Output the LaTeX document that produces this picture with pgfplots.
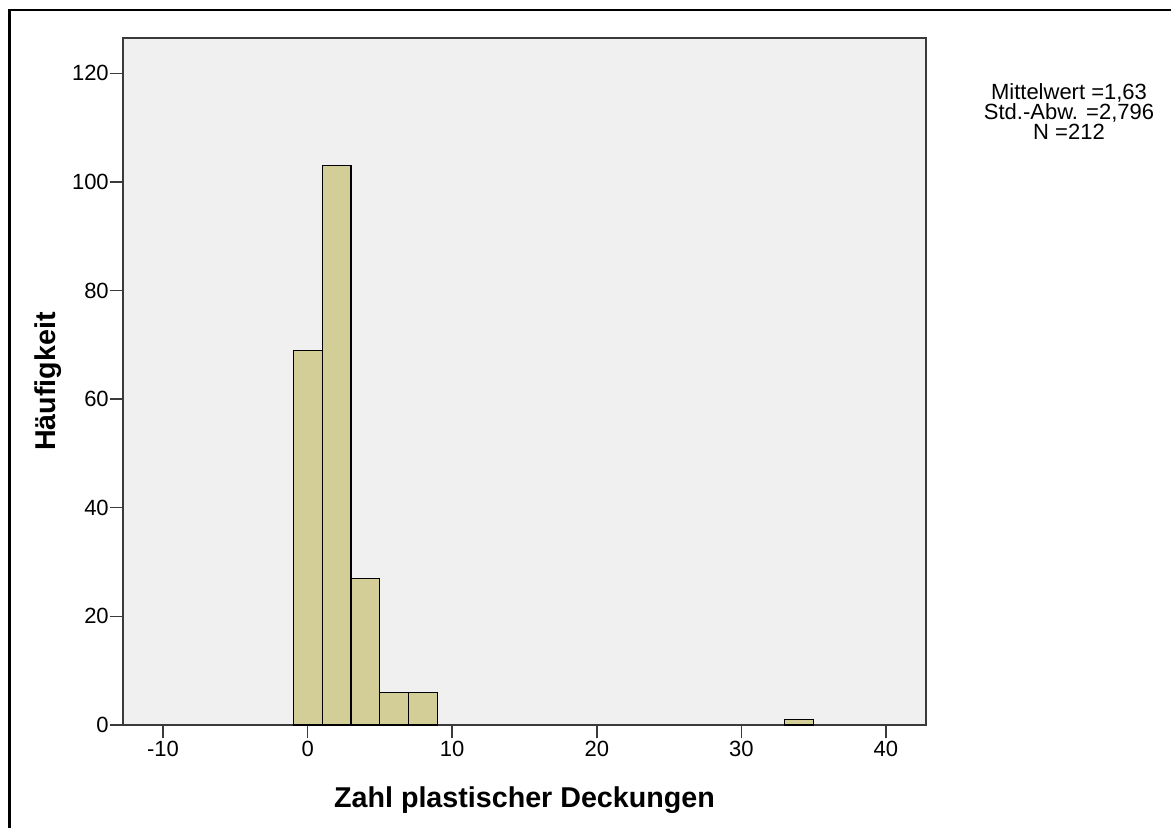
\documentclass[border=0pt]{standalone}
\usepackage{pgfplots}
\pgfplotsset{compat=1.18}
\usepackage{fontspec}
\setmainfont{Liberation Sans}
\definecolor{barfill}{HTML}{D3CE98}
\definecolor{plotbg}{HTML}{F0F0F0}
\definecolor{frame}{HTML}{3A3A3A}
\begin{document}
\begin{tikzpicture}[x=0.75pt,y=0.75pt]
\begin{axis}[
  at={(92.25pt,77.25pt)}, anchor=south west,
  scale only axis, width=602.25pt, height=515.25pt,
  xmin=-12.77, xmax=42.77, ymin=0, ymax=126.5,
  xtick={-10,0,10,20,30,40}, ytick={0,20,40,60,80,100,120},
  minor tick num=0,
  xtick pos=bottom, ytick pos=left,
  tick align=outside, major tick length=10pt,
  tick style={draw=frame, line width=1.1pt},
  axis line style={draw=frame, line width=1.3pt},
  axis background/.style={fill=plotbg},
  /pgf/number format/assume math mode=true,
  ticklabel style={font=\fontsize{16.5}{19}\selectfont},
  yticklabel style={inner xsep=0.5pt},
  xticklabel style={inner ysep=2pt},
  xlabel={Zahl plastischer Deckungen},
  ylabel={Häufigkeit},
  label style={font=\fontsize{21.5}{24}\selectfont\bfseries},
  xlabel style={at={(axis description cs:0.5,-0.109)}, anchor=center},
  ylabel style={at={(axis description cs:-0.0934,0.5)}, anchor=center},
  clip=false,
]
\addplot[ybar, bar width=2, bar shift=0pt, fill=barfill, draw=black, line width=0.8pt]
  coordinates {(0,69) (2,103) (4,27) (6,6) (8,6) (34,1)};
\end{axis}
\node[align=center, font=\fontsize{16.5}{15}\selectfont] at (1069,716)
  {Mittelwert =1,63\\Std.-Abw. =2,796\\N =212};
\draw[line width=1.6pt, black] (9.5,-10) -- (9.5,818) -- (1190,818);
\pgfresetboundingbox
\useasboundingbox (0,0) rectangle (1171,828);
\end{tikzpicture}
\end{document}
